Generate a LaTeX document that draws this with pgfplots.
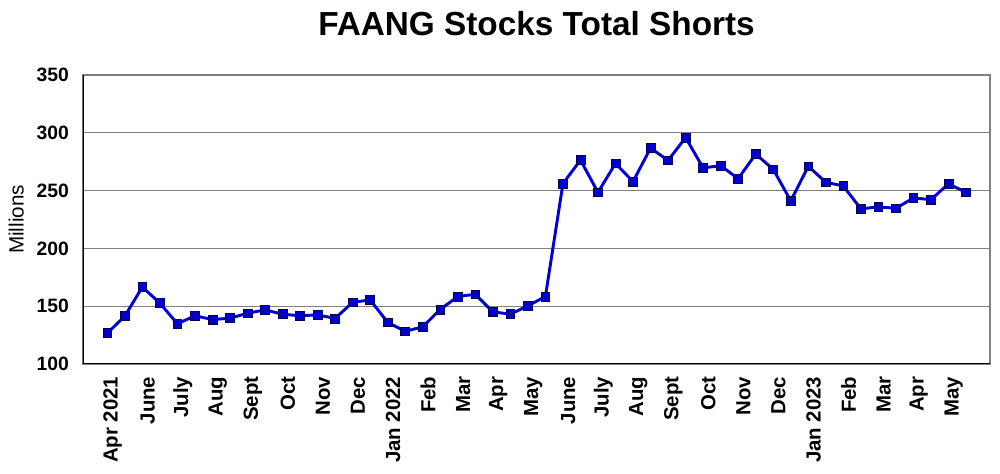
\documentclass[border=0pt]{standalone}
\usepackage{fontspec}
\setmainfont{Liberation Sans}
\usepackage{pgfplots}
\pgfplotsset{compat=1.18}
\definecolor{lineblue}{RGB}{0,0,215}
\definecolor{markblue}{RGB}{0,0,200}
\definecolor{markedge}{RGB}{0,0,90}
\definecolor{gridgray}{RGB}{128,128,128}
\begin{document}
\begin{tikzpicture}
\begin{axis}[
  at={(0,0)}, anchor=south west,
  scale only axis,
  width=680.25pt, height=216.75pt,
  xmin=-1.387, xmax=50.37,
  ymin=100, ymax=350,
  ytick={100,150,...,350},
  xtick={0,2,...,48},
  xticklabels={Apr 2021,June,July,Aug,Sept,Oct,Nov,Dec,Jan 2022,Feb,Mar,Apr,May,June,July,Aug,Sept,Oct,Nov,Dec,Jan 2023,Feb,Mar,Apr,May},
  major tick length=0pt,
  ymajorgrids,
  grid style={gridgray, line width=0.9pt},
  axis line style={draw=gridgray, line width=0.9pt},
  /pgf/number format/assume math mode=true,
  yticklabel style={font=\fontsize{14.5}{16}\selectfont\bfseries, xshift=-7pt},
  xticklabel style={font=\fontsize{15.3}{17}\selectfont\bfseries, xshift=4pt, yshift=-6pt, rotate=90, anchor=east},
  title={FAANG Stocks Total Shorts},
  title style={font=\fontsize{25}{28}\selectfont\bfseries, at={(0.5,1)}, anchor=south, yshift=20pt},
  ylabel={Millions},
  every axis y label/.style={at={(axis description cs:0,0.5)}, xshift=-50pt, rotate=90, anchor=center, font=\fontsize{15.5}{18}\selectfont},
]
\addplot[lineblue, line width=2.2pt, mark=square*, mark size=3.3pt,
  mark options={fill=markblue, draw=markedge, line width=0.5pt}] coordinates {
(0,126.7) (1,141.4) (2,166.6) (3,152.6) (4,134.8) (5,141.7) (6,138.5) (7,139.6)
(8,143.9) (9,146.8) (10,143.1) (11,141.7) (12,142.5) (13,139.4) (14,153.4) (15,155.4)
(16,136.0) (17,128.2) (18,132.2) (19,147.2) (20,158.4) (21,160.3) (22,145.1) (23,143.1)
(24,150.3) (25,158.4) (26,256.0) (27,276.4) (28,248.5) (29,273.5) (30,257.8) (31,286.8)
(32,276.1) (33,295.9) (34,269.6) (35,271.6) (36,260.3) (37,281.6) (38,268.4) (39,241.1)
(40,271.0) (41,257.2) (42,254.0) (43,234.2) (44,235.9) (45,234.7) (46,243.6) (47,242.2)
(48,255.8) (49,248.5)
};
\draw[black, line width=1pt] (rel axis cs:0,1) -- (rel axis cs:0,0) -- (rel axis cs:1,0);
\end{axis}
\pgfresetboundingbox
\path (-62.25pt,-82.5pt) rectangle (687.75pt,273pt);
\end{tikzpicture}
\end{document}
